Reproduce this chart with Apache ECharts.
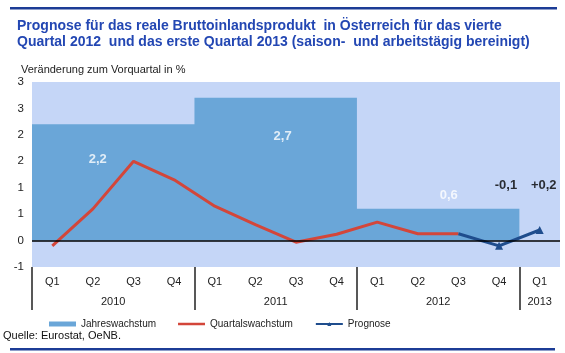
<!DOCTYPE html>
<html><head><meta charset="utf-8">
<script src="https://cdn.jsdelivr.net/npm/echarts@6/dist/echarts.min.js"></script>
<style>html,body{margin:0;padding:0;background:#fff}#c{width:565px;height:353px}</style>
</head><body><div id="c"></div>
<script>
// ---- data ----
const quarters = ['Q1','Q2','Q3','Q4','Q1','Q2','Q3','Q4','Q1','Q2','Q3','Q4','Q1'];
const years = ['2010','2011','2012','2013'];
const quartersPerYear = [4, 4, 4, 1];
const annualGrowth = [2.2, 2.7, 0.6, null];
const annualLabels = ['2,2', '2,7', '0,6'];
const quarterlyGrowth = [-0.1, 0.6, 1.5, 1.15, 0.65, 0.3, -0.03, 0.12, 0.35, 0.13, 0.13];
const forecastStartIndex = 10;          // forecast starts at Q3 2012
const forecast = [0.13, -0.1, 0.2];      // Q3 2012, Q4 2012, Q1 2013
const forecastLabels = ['-0,1', '+0,2'];
const yTickLabels = ['-1', '0', '1', '1', '2', '2', '3', '3'];

// ---- layout (label anchor positions, in axis units) ----
const annualLabelPos = [[1.62, 1.53], [6.17, 1.97], [10.26, 0.86]];
const forecastLabelPos = [[11.67, 1.05], [12.6, 1.05]];

// ---- derived ----
const yearStarts = [];
let acc = 0;
quartersPerYear.forEach(n => { yearStarts.push(acc); acc += n; });
const yearCenters = yearStarts.map((s, i) => s + quartersPerYear[i] / 2);
const annualStep = [];
annualGrowth.forEach((v, i) => { if (v != null) annualStep.push([yearStarts[i], v]); });
{ // close last year
  let last = -1; annualGrowth.forEach((v, i) => { if (v != null) last = i; });
  annualStep.push([yearStarts[last] + quartersPerYear[last], annualGrowth[last]]);
}
const quarterlyData = quarters.map((q, i) => i < quarterlyGrowth.length ? quarterlyGrowth[i] : null);
const forecastData = quarters.map((q, i) => {
  const k = i - forecastStartIndex;
  if (k < 0 || k >= forecast.length) return null;
  return k === 0 ? { value: forecast[k], symbol: 'none' } : forecast[k];
});
const labelPoints = [];
annualLabels.forEach((t, i) => labelPoints.push({ value: annualLabelPos[i], name: t,
  label: { color: '#ffffff' } }));
forecastLabels.forEach((t, i) => labelPoints.push({ value: forecastLabelPos[i], name: t,
  label: { color: '#000000' } }));

const FONT = 'Liberation Sans, Arial, sans-serif';
const chart = echarts.init(document.getElementById('c'), null, { renderer: 'canvas' });
chart.setOption({
  animation: false,
  textStyle: { fontFamily: FONT },
  title: [
    { text: 'Prognose für das reale Bruttoinlandsprodukt  in Österreich für das vierte\nQuartal 2012  und das erste Quartal 2013 (saison-  und arbeitstägig bereinigt)',
      left: 17, top: 18, padding: 0,
      textStyle: { fontFamily: FONT, fontSize: 14, fontWeight: 'bold', color: '#2347b3', lineHeight: 16 } },
    { text: 'Veränderung zum Vorquartal in %', left: 21, top: 64, padding: 0,
      textStyle: { fontFamily: FONT, fontSize: 11, fontWeight: 'normal', color: '#222' } },
    { text: 'Quelle: Eurostat, OeNB.', left: 3, top: 330, padding: 0,
      textStyle: { fontFamily: FONT, fontSize: 11, fontWeight: 'normal', color: '#111' } }
  ],
  graphic: [
    { type: 'rect', shape: { x: 10, y: 7, width: 547, height: 2.5 }, style: { fill: '#1c3c96' } },
    { type: 'rect', shape: { x: 10, y: 348, width: 545, height: 2.5 }, style: { fill: '#1c3c96' } }
  ],
  grid: { left: 32, right: 5, top: 82, bottom: 86, show: true, backgroundColor: '#c5d6f7', borderWidth: 0 },
  legend: {
    left: 49, top: 319, itemWidth: 27, itemHeight: 5, itemGap: 22, padding: 0,
    textStyle: { fontSize: 10, color: '#222', fontFamily: FONT },
    data: [{ name: 'Jahreswachstum', icon: 'rect' },
           { name: 'Quartalswachstum', icon: 'path://M0,0h27v2.5h-27z' },
           { name: 'Prognose' }]
  },
  xAxis: [
    { type: 'category', data: quarters, boundaryGap: true, position: 'bottom',
      axisLine: { show: false }, axisTick: { show: false },
      axisLabel: { fontSize: 11, color: '#222', margin: 9 } },
    { type: 'value', min: 0, max: quarters.length, position: 'bottom',
      axisLine: { show: false }, splitLine: { show: false },
      axisTick: { show: true, customValues: yearStarts, length: 43, lineStyle: { color: '#222', width: 1.5 } },
      axisLabel: { fontSize: 11, color: '#222', margin: 29, customValues: yearCenters,
        formatter: v => { const i = yearCenters.findIndex(c => Math.abs(c - v) < 1e-6); return i >= 0 ? years[i] : ''; } } }
  ],
  yAxis: {
    type: 'value', min: -0.5, max: 3, interval: 0.5,
    axisLine: { show: false }, axisTick: { show: false }, splitLine: { show: false },
    axisLabel: { fontSize: 11.5, color: '#222', margin: 8,
      formatter: v => yTickLabels[Math.round((v + 0.5) / 0.5)] }
  },
  series: [
    { name: 'Jahreswachstum', type: 'line', xAxisIndex: 1, step: 'end', data: annualStep,
      color: '#6aa6d8', symbol: 'none', lineStyle: { width: 0 },
      areaStyle: { color: '#6aa6d8', opacity: 1 }, z: 1, silent: true,
      markLine: { silent: true, symbol: 'none', label: { show: false },
        lineStyle: { color: '#000', width: 1.5, type: 'solid' }, data: [{ yAxis: 0 }] } },
    { name: 'Quartalswachstum', type: 'line', data: quarterlyData, color: '#d3463a',
      symbol: 'none', lineStyle: { width: 3 }, z: 3 },
    { name: 'Prognose', type: 'line', data: forecastData, color: '#1f4d8d',
      symbol: 'triangle', symbolSize: 8, showAllSymbol: true, lineStyle: { width: 3 }, z: 4 },
    { name: 'labels', type: 'scatter', xAxisIndex: 1, data: labelPoints, symbolSize: 0, silent: true, z: 5,
      label: { show: true, position: 'inside', formatter: p => p.name, fontSize: 13, fontWeight: 'bold', fontFamily: FONT } }
  ]
});
</script></body></html>
